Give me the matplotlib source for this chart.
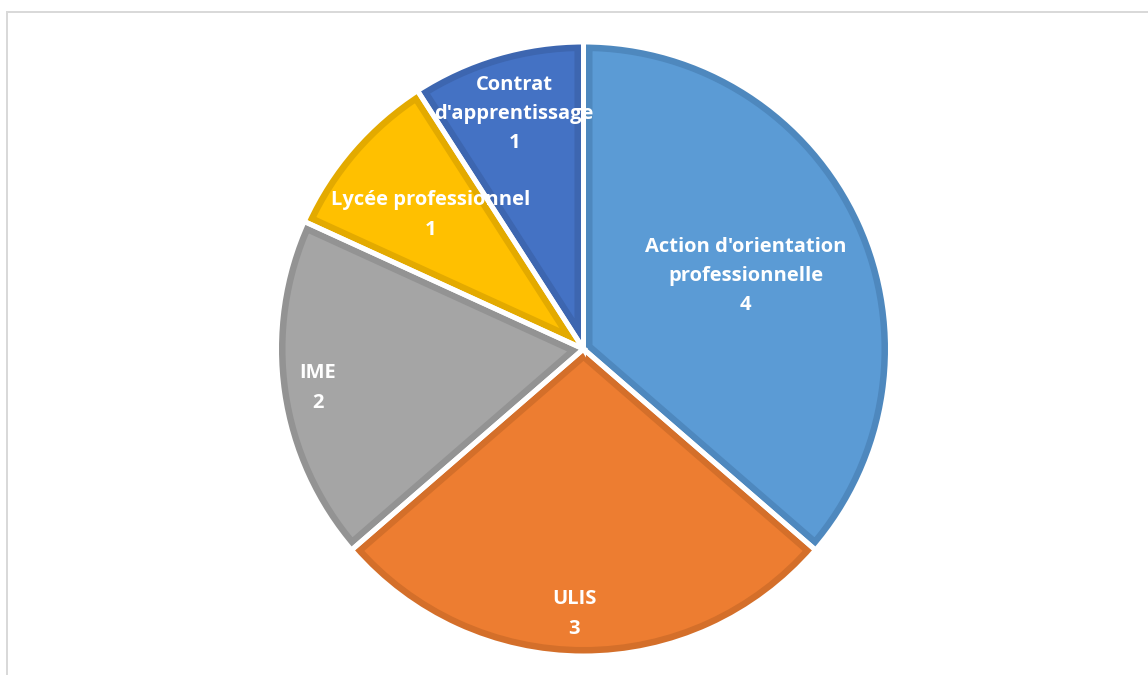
import matplotlib.pyplot as plt
from matplotlib.lines import Line2D

# data
categories = ["Action d'orientation\nprofessionnelle", "ULIS", "IME",
              "Lycée professionnel", "Contrat\nd'apprentissage"]
values = [4, 3, 2, 1, 1]
fill_colors = ["#5B9BD5", "#ED7D31", "#A5A5A5", "#FFC000", "#4472C4"]
edge_colors = ["#4E88BE", "#D46F2A", "#939393", "#E3AA00", "#3D66B0"]

# label centres (radius units, pie centre = 0,0)
label_xy = [(0.529, 0.238), (-0.031, -0.863), (-0.865, -0.127),
            (-0.497, 0.436), (-0.226, 0.765)]

W, H = 1148, 675
R_PX = 307
CX, CY = 583.5, 349   # pie centre, pixels from top-left
PT = 72 / 100         # points per pixel

fig = plt.figure(figsize=(W / 100, H / 100), dpi=100)
ax = fig.add_axes([0, 0, 1, 1])

wedges, _ = ax.pie(values, colors=fill_colors, startangle=90, counterclock=False,
                   radius=1, wedgeprops=dict(linewidth=18 * PT))
for w, ec in zip(wedges, edge_colors):
    w.set_edgecolor(ec)
    w.set_clip_on(True)
    w.set_clip_path(w.get_path(), w.get_transform())   # inner half of stroke only

# white separators
ax.pie(values, startangle=90, counterclock=False, radius=1,
       wedgeprops=dict(fill=False, edgecolor="white", linewidth=5 * PT))

for (x, y), lab, v in zip(label_xy, categories, values):
    ax.text(x, y, f"{lab}\n{v}", ha="center", va="center", color="white",
            fontsize=14.5, fontweight="bold", family="Open Sans", linespacing=1.62)

ax.set_xlim(-CX / R_PX, (W - CX) / R_PX)
ax.set_ylim(-(H - CY) / R_PX, CY / R_PX)
ax.axis("off")

# chart area border (top and left only visible)
bc = "#D9D9D9"
fig.add_artist(Line2D([7 / W, 1], [1 - 12 / H, 1 - 12 / H], color=bc, lw=2 * PT,
                      transform=fig.transFigure))
fig.add_artist(Line2D([7 / W, 7 / W], [0, 1 - 12 / H], color=bc, lw=2 * PT,
                      transform=fig.transFigure))

fig.savefig("out.png", dpi=100)
